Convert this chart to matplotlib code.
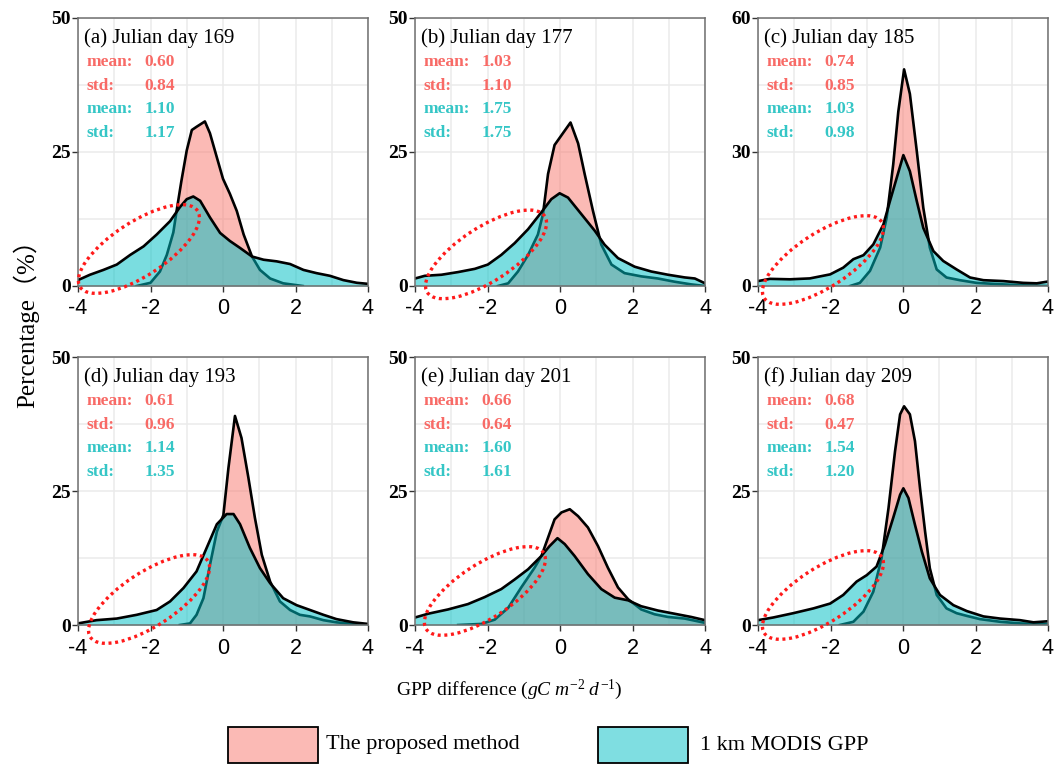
import matplotlib
matplotlib.use("Agg")
import matplotlib.pyplot as plt
import matplotlib.transforms as mtransforms
from matplotlib.patches import Ellipse, Rectangle
from matplotlib.colors import to_rgba

plt.rcParams['axes.unicode_minus'] = False
plt.rcParams['mathtext.fontset'] = 'custom'
plt.rcParams['mathtext.rm'] = 'Liberation Serif'
plt.rcParams['mathtext.it'] = 'Liberation Serif:italic'

# panel labels and stats
labels = ['(a) Julian day 169', '(b) Julian day 177', '(c) Julian day 185',
          '(d) Julian day 193', '(e) Julian day 201', '(f) Julian day 209']
prop_mean = ['0.60', '1.03', '0.74', '0.61', '0.66', '0.68']
prop_std = ['0.84', '1.10', '0.85', '0.96', '0.64', '0.47']
modis_mean = ['1.10', '1.75', '1.03', '1.14', '1.60', '1.54']
modis_std = ['1.17', '1.75', '0.98', '1.35', '1.61', '1.20']
ymax = [50, 50, 60, 50, 50, 50]

# density curves (x: GPP difference, y: percentage)
a_prop_x = [-2.38, -2.0, -1.74, -1.55, -1.37, -1.28, -1.15, -1.0, -0.86, -0.73, -0.5, -0.36, -0.17, 0.0, 0.19, 0.38, 0.57, 0.8, 1.02, 1.3, 1.66, 2.2]
a_prop_y = [0, 0.6, 2.7, 5.8, 10.0, 14.0, 19.5, 25.3, 29.1, 29.7, 30.7, 28.5, 24.0, 20.0, 17.2, 14.0, 9.6, 5.5, 3.0, 1.4, 0.5, 0]
a_modis_x = [-4.0, -3.67, -3.3, -2.93, -2.56, -2.19, -1.83, -1.46, -1.19, -1.0, -0.82, -0.63, -0.36, -0.08, 0.19, 0.47, 0.8, 1.12, 1.48, 1.85, 2.22, 2.58, 2.95, 3.32, 3.69, 4.0]
a_modis_y = [1.1, 2.1, 3.0, 4.0, 5.8, 7.4, 9.6, 12.1, 14.7, 16.2, 16.7, 15.9, 12.8, 9.9, 8.4, 7.1, 5.5, 4.9, 4.6, 4.1, 3.0, 2.4, 1.9, 1.1, 0.6, 0.4]

b_prop_x = [-1.71, -1.43, -1.16, -0.88, -0.61, -0.47, -0.33, -0.15, 0.08, 0.29, 0.5, 0.68, 0.91, 1.14, 1.42, 1.78, 2.24, 2.7, 3.16, 3.62, 4.0]
b_prop_y = [0, 0.5, 2.7, 5.8, 9.6, 13.4, 20.9, 26.3, 28.5, 30.5, 26.6, 20.9, 14.0, 7.7, 4.0, 2.4, 1.8, 1.4, 0.8, 0.3, 0]
b_modis_x = [-4.0, -3.73, -3.27, -2.81, -2.35, -1.99, -1.62, -1.25, -0.88, -0.52, -0.24, -0.01, 0.22, 0.59, 0.96, 1.23, 1.6, 2.06, 2.52, 2.98, 3.44, 3.72, 4.0]
b_modis_y = [1.4, 1.9, 2.1, 2.6, 3.2, 4.0, 5.8, 8.0, 10.6, 13.7, 16.2, 17.3, 16.5, 13.4, 10.3, 7.7, 5.2, 3.6, 2.7, 2.1, 1.6, 1.4, 0.5]

c_prop_x = [-1.46, -1.19, -0.91, -0.63, -0.45, -0.27, -0.13, 0.03, 0.19, 0.38, 0.56, 0.74, 0.93, 1.2, 1.57, 2.03, 2.67, 3.32, 4.0]
c_prop_y = [0, 0.7, 3.4, 8.6, 15.3, 27.2, 39.0, 48.5, 43.0, 30.2, 17.5, 8.6, 3.7, 1.9, 1.3, 0.7, 0.4, 0.15, 0]
c_modis_x = [-4.0, -3.67, -3.12, -2.57, -2.01, -1.65, -1.37, -1.09, -0.82, -0.54, -0.36, -0.17, 0.01, 0.19, 0.38, 0.56, 0.84, 1.11, 1.48, 1.85, 2.22, 2.77, 3.32, 3.69, 4.0]
c_modis_y = [1.1, 1.6, 1.5, 1.7, 2.6, 4.1, 6.0, 6.9, 9.3, 13.8, 19.0, 24.3, 29.3, 25.7, 19.0, 13.0, 7.8, 5.6, 3.7, 1.9, 1.3, 1.1, 0.7, 0.6, 1.0]

d_prop_x = [-1.19, -0.91, -0.73, -0.54, -0.36, -0.17, 0.01, 0.15, 0.33, 0.51, 0.7, 0.88, 1.07, 1.3, 1.57, 1.85, 2.12, 2.4, 2.77, 3.13, 3.59, 4.0]
d_prop_y = [0, 0.3, 1.9, 5.0, 11.2, 17.4, 20.5, 29.3, 39.0, 34.9, 27.5, 20.0, 13.1, 8.1, 4.4, 2.8, 1.9, 1.6, 0.9, 0.5, 0.2, 0]
d_modis_x = [-4.0, -3.49, -2.93, -2.38, -1.83, -1.46, -1.09, -0.73, -0.45, -0.17, 0.1, 0.29, 0.47, 0.74, 1.02, 1.3, 1.66, 2.03, 2.4, 2.77, 3.13, 3.59, 4.0]
d_modis_y = [0.3, 0.9, 1.2, 1.9, 2.8, 4.4, 6.9, 10.0, 14.4, 18.8, 20.7, 20.7, 18.8, 14.4, 10.6, 7.8, 5.0, 3.7, 2.8, 1.9, 1.1, 0.5, 0.2]

e_prop_x = [-2.81, -2.17, -1.8, -1.43, -1.07, -0.7, -0.51, -0.33, -0.15, 0.04, 0.27, 0.5, 0.77, 1.05, 1.32, 1.6, 1.88, 2.24, 2.61, 2.98, 3.44, 4.0]
e_prop_y = [0, 0.2, 1.0, 3.2, 7.0, 10.7, 12.9, 16.3, 19.7, 21.0, 21.6, 20.3, 18.2, 14.7, 10.7, 7.0, 4.8, 2.9, 2.0, 1.5, 1.2, 0.4]
e_modis_x = [-4.0, -3.64, -3.09, -2.54, -2.08, -1.62, -1.25, -0.88, -0.51, -0.29, -0.07, 0.13, 0.4, 0.77, 1.14, 1.51, 1.88, 2.24, 2.7, 3.16, 3.62, 4.0]
e_modis_y = [1.4, 2.1, 2.9, 3.9, 5.2, 6.7, 8.5, 10.4, 12.9, 14.7, 16.2, 15.1, 12.9, 9.5, 6.7, 5.1, 4.6, 3.5, 2.7, 2.1, 1.5, 0.9]

f_prop_x = [-1.74, -1.37, -1.09, -0.82, -0.59, -0.4, -0.22, -0.08, 0.03, 0.19, 0.33, 0.47, 0.61, 0.74, 0.93, 1.2, 1.48, 1.76, 2.12, 2.68, 3.23, 4.0]
f_prop_y = [0, 0.6, 2.5, 6.2, 12.5, 21.8, 32.4, 39.3, 40.8, 39.3, 34.3, 25.5, 17.4, 10.6, 5.6, 3.1, 2.2, 1.7, 1.1, 0.6, 0.3, 0.1]
f_modis_x = [-4.0, -3.58, -3.03, -2.47, -2.01, -1.65, -1.28, -1.0, -0.73, -0.5, -0.27, -0.08, 0.01, 0.15, 0.33, 0.52, 0.74, 1.02, 1.39, 1.76, 2.22, 2.68, 3.23, 3.6, 4.0]
f_modis_y = [0.9, 1.4, 2.2, 3.1, 4.0, 5.6, 8.1, 9.3, 10.9, 15.0, 20.0, 24.3, 25.5, 23.7, 18.7, 13.7, 8.7, 5.6, 3.7, 2.6, 1.6, 1.2, 0.9, 0.5, 0.7]

prop_curves = [(a_prop_x, a_prop_y), (b_prop_x, b_prop_y), (c_prop_x, c_prop_y),
               (d_prop_x, d_prop_y), (e_prop_x, e_prop_y), (f_prop_x, f_prop_y)]
modis_curves = [(a_modis_x, a_modis_y), (b_modis_x, b_modis_y), (c_modis_x, c_modis_y),
                (d_modis_x, d_modis_y), (e_modis_x, e_modis_y), (f_modis_x, f_modis_y)]

# red dotted ellipse centres (axes fraction)
ell_cx = [0.21, 0.245, 0.224, 0.245, 0.241, 0.224]
ell_cy = [0.138, 0.118, 0.097, 0.097, 0.127, 0.112]

RED = '#F8766D'
CYAN = '#00BFC4'
RED_TXT = '#F86A66'
CYAN_TXT = '#35C6C6'
W, H = 1057, 765
AX_W, AX_H = 290, 268
lefts = [78, 415, 758]
tops = [18, 357]

fig = plt.figure(figsize=(W / 100, H / 100), dpi=100)

for i in range(6):
    r, c = divmod(i, 3)
    ax = fig.add_axes([lefts[c] / W, 1 - (tops[r] + AX_H) / H, AX_W / W, AX_H / H])
    px, py = prop_curves[i]
    mx, my = modis_curves[i]
    ax.fill_between(px, py, 0, color=RED, alpha=0.5, lw=0, zorder=2)
    ax.plot(px, py, color='black', lw=1.9, zorder=3, solid_joinstyle='round')
    ax.fill_between(mx, my, 0, color=CYAN, alpha=0.52, lw=0, zorder=4)
    ax.plot(mx, my, color='black', lw=1.9, zorder=5, solid_joinstyle='round')

    ax.set_xlim(-4, 4)
    ax.set_ylim(0, ymax[i])
    ax.set_xticks([-4, -2, 0, 2, 4])
    ax.set_xticks([-3, -1, 1, 3], minor=True)
    ax.set_yticks([0, ymax[i] / 2, ymax[i]])
    ax.set_yticks([ymax[i] / 4, ymax[i] * 3 / 4], minor=True)
    ax.set_yticklabels([str(v) for v in [0, ymax[i] // 2, ymax[i]]],
                       fontfamily='Liberation Serif', fontweight='bold', fontsize=14)
    ax.set_xticklabels(['-4', '-2', '0', '2', '4'], fontfamily='Liberation Sans', fontsize=15.5)
    ax.grid(True, which='both', color='#EBEBEB', lw=1.1, zorder=0)
    ax.set_axisbelow(True)
    ax.tick_params(axis='x', which='major', length=4, width=1, color='#333333', pad=5)
    ax.tick_params(axis='y', which='major', length=4, width=1, color='#333333', pad=1)
    ax.tick_params(which='minor', length=0)
    for s in ax.spines.values():
        s.set_color('#6F6F6F')
        s.set_linewidth(1.1)
        s.set_zorder(6)

    ax.text(0.02, 0.925, labels[i], transform=ax.transAxes, fontfamily='Liberation Serif',
            fontsize=15, va='center', ha='left', zorder=7)
    rows = [('mean:', prop_mean[i], RED_TXT), ('std:', prop_std[i], RED_TXT),
            ('mean:', modis_mean[i], CYAN_TXT), ('std:', modis_std[i], CYAN_TXT)]
    for k, (lab, val, col) in enumerate(rows):
        yy = 0.836 - k * 0.088
        ax.text(0.028, yy, lab, transform=ax.transAxes, color=col, fontfamily='Liberation Serif',
                fontweight='bold', fontsize=12.5, va='center', ha='left', zorder=7)
        ax.text(0.228, yy, val, transform=ax.transAxes, color=col, fontfamily='Liberation Serif',
                fontweight='bold', fontsize=12.5, va='center', ha='left', zorder=7)

    # dotted ellipse drawn in pixel units inside the axes box
    tr = mtransforms.Affine2D().scale(1 / AX_W, 1 / AX_H) + ax.transAxes
    ax.add_patch(Ellipse((ell_cx[i] * AX_W, ell_cy[i] * AX_H), 140, 54, angle=33,
                         transform=tr, fill=False, edgecolor='#FF1A1A', lw=2.4,
                         ls=(0, (0.9, 1.1)), clip_on=False, zorder=8))

fig.text(26 / W, 1 - 318 / H, 'Percentage（%）', rotation=90, ha='center', va='center',
         fontsize=18, family=['Liberation Serif', 'Noto Sans CJK SC'])
fig.text(509 / W, 1 - 690 / H, r'GPP difference ($gC\ m^{-2}\ d^{-1}$)', ha='center',
         va='center', fontsize=14, fontfamily='Liberation Serif')

# legend
leg_boxes = [(228, RED, 'The proposed method', 326), (598, CYAN, '1 km MODIS GPP', 700)]
for bx, col, txt, tx in leg_boxes:
    fig.patches.append(Rectangle((bx / W, 2 / H), 90 / W, 36 / H, transform=fig.transFigure,
                                 facecolor=to_rgba(col, 0.5), edgecolor='black', lw=1.3))
    fig.text(tx / W, 1 - 745 / H, txt, ha='left', va='center', fontsize=16,
             fontfamily='Liberation Serif')

fig.savefig('out.png', dpi=100)
